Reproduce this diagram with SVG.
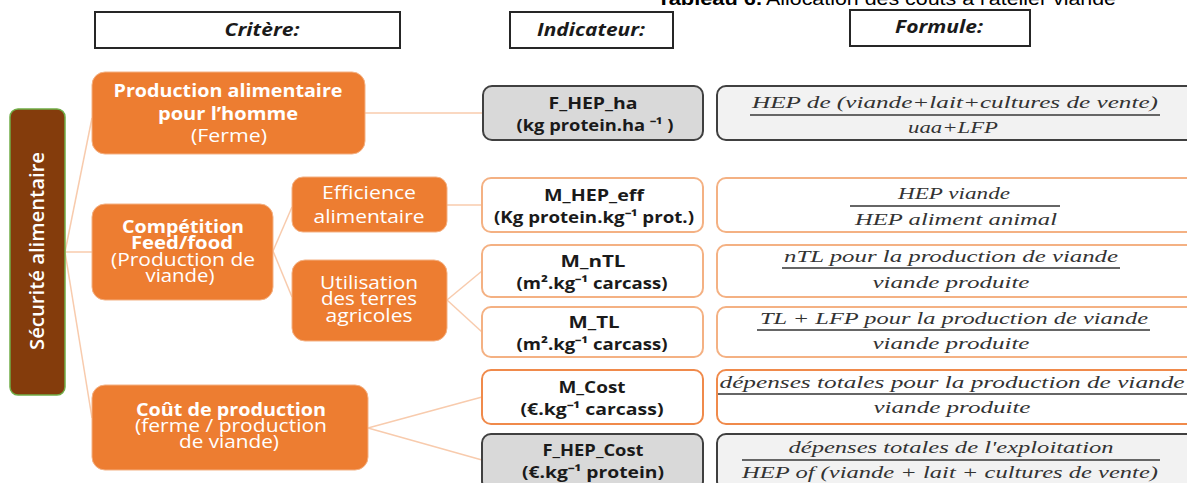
<svg xmlns="http://www.w3.org/2000/svg" width="1187" height="483" viewBox="0 0 1187 483">
<style>
.hdr{fill:#fff;stroke:#262626;stroke-width:2}
.hdrt{font-family:"Open Sans",sans-serif;font-weight:bold;font-style:italic;font-size:18px;fill:#1a1a1a;text-anchor:middle}
.org{fill:#ED7D31;stroke:#F4B183;stroke-width:1}
.ot{font-family:"Open Sans",sans-serif;font-size:18px;fill:#fff;text-anchor:middle}
.b{font-weight:bold}
.ind{fill:#fff;stroke:#F4B183;stroke-width:2}
.indg{fill:#D9D9D9;stroke:#404040;stroke-width:2}
.it{font-family:"Open Sans",sans-serif;font-weight:bold;font-size:16px;fill:#1a1a1a;text-anchor:middle}
.frm{fill:#fff;stroke:#F4B183;stroke-width:2}
.frmg{fill:#F2F2F2;stroke:#404040;stroke-width:2}
.ft{font-family:"Liberation Serif",serif;font-style:italic;font-size:17px;fill:#333;text-anchor:middle}
.fl{stroke:#666;stroke-width:2}
.con{stroke:#F8CBAD;stroke-width:1.5;fill:none}
</style>
<rect width="1187" height="483" fill="#fff"/>
<text x="657" y="5" font-family="Liberation Sans,sans-serif" font-size="19" font-weight="bold" fill="#000" textLength="105" lengthAdjust="spacingAndGlyphs">Tableau 6.</text>
<text x="766" y="5" font-family="Liberation Sans,sans-serif" font-size="19" fill="#000" textLength="350" lengthAdjust="spacingAndGlyphs">Allocation des coûts à l'atelier viande</text>

<g id="headers">
<rect class="hdr" x="95" y="12" width="305" height="36"/>
<text class="hdrt" x="262" y="36" textLength="75" lengthAdjust="spacingAndGlyphs">Critère:</text>
<rect class="hdr" x="510" y="12" width="163" height="36"/>
<text class="hdrt" x="591" y="36" textLength="108" lengthAdjust="spacingAndGlyphs">Indicateur:</text>
<rect class="hdr" x="850" y="10" width="180" height="36"/>
<text class="hdrt" x="939" y="33" textLength="88" lengthAdjust="spacingAndGlyphs">Formule:</text>
</g>

<g id="connectors">
<line class="con" x1="65" y1="252" x2="92" y2="118"/>
<line class="con" x1="65" y1="252" x2="92" y2="252"/>
<line class="con" x1="65" y1="252" x2="92" y2="418"/>
<line class="con" x1="365" y1="113" x2="483" y2="113"/>
<line class="con" x1="273" y1="251" x2="292" y2="207"/>
<line class="con" x1="273" y1="251" x2="292" y2="297"/>
<line class="con" x1="447" y1="205" x2="482" y2="205"/>
<line class="con" x1="447" y1="300" x2="482" y2="271"/>
<line class="con" x1="447" y1="300" x2="482" y2="332"/>
<line class="con" x1="368" y1="428" x2="482" y2="397"/>
<line class="con" x1="368" y1="428" x2="482" y2="460"/>
</g>

<g id="securite">
<rect x="10" y="109" width="55" height="286" rx="8" fill="#843C0C" stroke="#70AD47" stroke-width="1.5"/>
<text transform="translate(44,251) rotate(-90)" font-family="Open Sans,sans-serif" font-size="20" font-weight="600" fill="#fff" text-anchor="middle" textLength="198" lengthAdjust="spacingAndGlyphs">Sécurité alimentaire</text>
</g>

<g id="production">
<rect class="org" x="92" y="72" width="273" height="82" rx="13"/>
<text class="ot b" x="228" y="97" textLength="229" lengthAdjust="spacingAndGlyphs">Production alimentaire</text>
<text class="ot b" x="228" y="120" textLength="140" lengthAdjust="spacingAndGlyphs">pour l’homme</text>
<text class="ot" x="229" y="142" textLength="76" lengthAdjust="spacingAndGlyphs">(Ferme)</text>
</g>

<g id="competition">
<rect class="org" x="92" y="204" width="181" height="96" rx="13"/>
<text class="ot b" x="183" y="233" textLength="122" lengthAdjust="spacingAndGlyphs">Compétition</text>
<text class="ot b" x="182" y="249" textLength="102" lengthAdjust="spacingAndGlyphs">Feed/food</text>
<text class="ot" x="183" y="266" textLength="144" lengthAdjust="spacingAndGlyphs">(Production de</text>
<text class="ot" x="180" y="282" textLength="69" lengthAdjust="spacingAndGlyphs">viande)</text>
</g>

<g id="efficience">
<rect class="org" x="292" y="177" width="155" height="55" rx="11"/>
<text class="ot" x="369" y="199" textLength="94" lengthAdjust="spacingAndGlyphs">Efficience</text>
<text class="ot" x="369" y="223" textLength="111" lengthAdjust="spacingAndGlyphs">alimentaire</text>
</g>

<g id="utilisation">
<rect class="org" x="292" y="260" width="155" height="81" rx="13"/>
<text class="ot" x="369" y="289" textLength="98" lengthAdjust="spacingAndGlyphs">Utilisation</text>
<text class="ot" x="369" y="305" textLength="96" lengthAdjust="spacingAndGlyphs">des terres</text>
<text class="ot" x="369" y="322" textLength="87" lengthAdjust="spacingAndGlyphs">agricoles</text>
</g>

<g id="cout">
<rect class="org" x="92" y="385" width="276" height="85" rx="13"/>
<text class="ot b" x="231" y="416" textLength="190" lengthAdjust="spacingAndGlyphs">Coût de production</text>
<text class="ot" x="231" y="432" textLength="192" lengthAdjust="spacingAndGlyphs">(ferme / production</text>
<text class="ot" x="229" y="448" textLength="100" lengthAdjust="spacingAndGlyphs">de viande)</text>
</g>

<g id="f_hep_ha">
<rect class="indg" x="483" y="86" width="220" height="54" rx="9"/>
<text class="it" x="593" y="109" textLength="89" lengthAdjust="spacingAndGlyphs">F_HEP_ha</text>
<text class="it" x="595" y="131" textLength="157" lengthAdjust="spacingAndGlyphs">(kg protein.ha ⁻¹ )</text>
</g>
<g id="m_hep_eff">
<rect class="ind" x="482" y="178" width="221" height="54" rx="9"/>
<text class="it" x="594" y="201" textLength="100" lengthAdjust="spacingAndGlyphs">M_HEP_eff</text>
<text class="it" x="594" y="223" textLength="200" lengthAdjust="spacingAndGlyphs">(Kg protein.kg⁻¹ prot.)</text>
</g>
<g id="m_ntl">
<rect class="ind" x="482" y="245" width="221" height="52" rx="9"/>
<text class="it" x="593" y="267" textLength="65" lengthAdjust="spacingAndGlyphs">M_nTL</text>
<text class="it" x="592" y="289" textLength="151" lengthAdjust="spacingAndGlyphs">(m².kg⁻¹ carcass)</text>
</g>
<g id="m_tl">
<rect class="ind" x="482" y="307" width="221" height="50" rx="9"/>
<text class="it" x="594" y="328" textLength="51" lengthAdjust="spacingAndGlyphs">M_TL</text>
<text class="it" x="592" y="350" textLength="151" lengthAdjust="spacingAndGlyphs">(m².kg⁻¹ carcass)</text>
</g>
<g id="m_cost">
<rect class="ind" x="482" y="370" width="221" height="54" rx="9" style="stroke:#F08A4B"/>
<text class="it" x="592" y="393" textLength="67" lengthAdjust="spacingAndGlyphs">M_Cost</text>
<text class="it" x="592" y="415" textLength="143" lengthAdjust="spacingAndGlyphs">(€.kg⁻¹ carcass)</text>
</g>
<g id="f_hep_cost">
<rect class="indg" x="482" y="434" width="221" height="56" rx="9"/>
<text class="it" x="593" y="456" textLength="101" lengthAdjust="spacingAndGlyphs">F_HEP_Cost</text>
<text class="it" x="593" y="478" textLength="142" lengthAdjust="spacingAndGlyphs">(€.kg⁻¹ protein)</text>
</g>

<g id="formule1">
<rect class="frmg" x="717" y="86" width="478" height="54" rx="9"/>
<text class="ft" x="955" y="108" textLength="406" lengthAdjust="spacingAndGlyphs">HEP de (viande+lait+cultures de vente)</text>
<line class="fl" x1="750" y1="115" x2="1160" y2="115"/>
<text class="ft" x="953" y="133" textLength="90" lengthAdjust="spacingAndGlyphs">uaa+LFP</text>
</g>
<g id="formule2">
<rect class="frm" x="717" y="178" width="478" height="54" rx="9"/>
<text class="ft" x="954" y="199" textLength="112" lengthAdjust="spacingAndGlyphs">HEP viande</text>
<line class="fl" x1="850" y1="206" x2="1060" y2="206"/>
<text class="ft" x="956" y="225" textLength="202" lengthAdjust="spacingAndGlyphs">HEP aliment animal</text>
</g>
<g id="formule3">
<rect class="frm" x="717" y="245" width="478" height="52" rx="9"/>
<text class="ft" x="951" y="262" textLength="334" lengthAdjust="spacingAndGlyphs">nTL pour la production de viande</text>
<line class="fl" x1="782" y1="268" x2="1120" y2="268"/>
<text class="ft" x="951" y="288" textLength="157" lengthAdjust="spacingAndGlyphs">viande produite</text>
</g>
<g id="formule4">
<rect class="frm" x="717" y="307" width="478" height="50" rx="9"/>
<text class="ft" x="954" y="324" textLength="388" lengthAdjust="spacingAndGlyphs">TL + LFP pour la production de viande</text>
<line class="fl" x1="757" y1="330" x2="1150" y2="330"/>
<text class="ft" x="951" y="349" textLength="157" lengthAdjust="spacingAndGlyphs">viande produite</text>
</g>
<g id="formule5">
<rect class="frm" x="717" y="370" width="478" height="54" rx="9" style="stroke:#F08A4B"/>
<text class="ft" x="952" y="388" textLength="465" lengthAdjust="spacingAndGlyphs">dépenses totales pour la production de viande</text>
<line class="fl" x1="718" y1="394" x2="1187" y2="394"/>
<text class="ft" x="952" y="413" textLength="157" lengthAdjust="spacingAndGlyphs">viande produite</text>
</g>
<g id="formule6">
<rect class="frmg" x="717" y="434" width="478" height="56" rx="9"/>
<text class="ft" x="951" y="453" textLength="325" lengthAdjust="spacingAndGlyphs">dépenses totales de l'exploitation</text>
<line class="fl" x1="742" y1="460" x2="1160" y2="460"/>
<text class="ft" x="950" y="478" textLength="416" lengthAdjust="spacingAndGlyphs">HEP of (viande + lait + cultures de vente)</text>
</g>
</svg>
